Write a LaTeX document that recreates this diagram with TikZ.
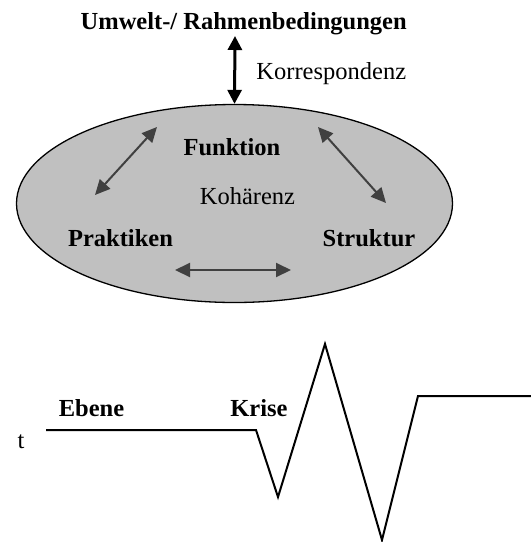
\documentclass[tikz,border=0pt]{standalone}
\usepackage{fontspec}
\setmainfont{Liberation Serif}
\usetikzlibrary{arrows.meta,positioning,shapes.geometric}
\definecolor{sysfill}{HTML}{C0C0C0}
\definecolor{relgray}{HTML}{404040}
\tikzset{
  lbl/.style={font=\fontsize{24.5}{28}\selectfont,inner sep=0pt,anchor=base},
  blbl/.style={lbl,font=\fontsize{24.5}{28}\selectfont\bfseries},
  sysbox/.style={ellipse,draw,line width=1.3pt,fill=sysfill,inner sep=0pt,
    minimum width=436pt,minimum height=198pt},
  rel/.style={{Triangle[length=15pt,width=14pt]}-{Triangle[length=15pt,width=14pt]},
    line width=2pt,draw=relgray},
  corr/.style={{Triangle[length=14pt,width=14pt]}-{Triangle[length=14pt,width=14pt]},
    line width=3pt},
  wave/.style={line width=2pt,line join=miter},
}

\begin{document}
\begin{tikzpicture}[x=1pt,y=-1pt]
\useasboundingbox (0,0) rectangle (531,542);
% system
\node[sysbox] (sys) at (234.5,203.5) {};
\node[blbl] (env) at (243.7,29) {Umwelt-/ Rahmenbedingungen};
\node[lbl] (korr) at (331.3,79) {Korrespondenz};
\node[blbl] (fkt) at (232,155) {Funktion};
\node[lbl] (koh) at (247.5,204) {Kohärenz};
\node[blbl] (prak) at (120.5,246) {Praktiken};
\node[blbl] (str) at (369,246) {Struktur};
% relations
\coordinate (envdock) at (235,36);
\coordinate (pf1) at (95,195);
\coordinate (pf2) at (157,127);
\coordinate (fs1) at (318,127);
\coordinate (fs2) at (386,203);
\coordinate (ps1) at (175,270);
\coordinate (ps2) at (291,270);
\draw[corr] (envdock) -- (sys.north);
\draw[rel] (pf1) -- (pf2);
\draw[rel] (fs1) -- (fs2);
\draw[rel] (ps1) -- (ps2);
% time line
\node[lbl] (t) at (21,448) {t};
\node[blbl] (ebene) at (91.5,416) {Ebene};
\node[blbl] (krise) at (259,416) {Krise};
\draw[wave] (46,430) -- (256,430) -- (278,497) -- (325,344) -- (382,540)
  -- (418,396) -- (531,396);
\end{tikzpicture}
\end{document}
